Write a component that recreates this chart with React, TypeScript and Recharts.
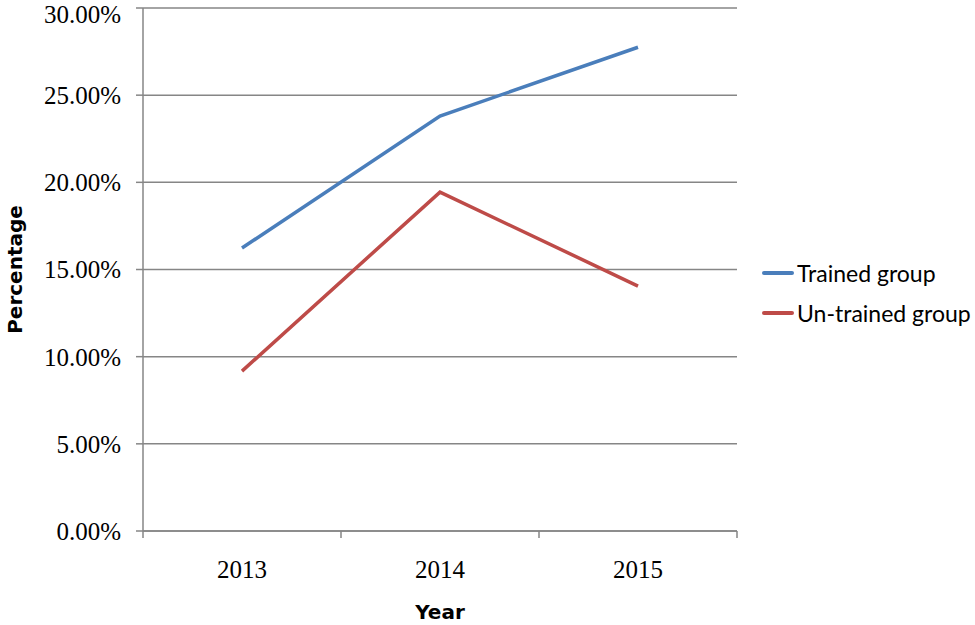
import { LineChart, Line, XAxis, YAxis, CartesianGrid, Label } from 'recharts'

const years = ['2013', '2014', '2015']
const trained = [0.1623, 0.238, 0.2775]
const untrained = [0.0917, 0.1944, 0.1405]
const yTicks = [0, 0.05, 0.1, 0.15, 0.2, 0.25, 0.3]

const series = [
  { key: 'trained', name: 'Trained group', color: '#4A7EBB' },
  { key: 'untrained', name: 'Un-trained group', color: '#BE4B48' },
]

const data = years.map((year, i) => ({
  year,
  trained: trained[i],
  untrained: untrained[i],
}))

const GRID = '#868686'
const HALF_BAND = 99

function YearTick(props: any) {
  const { x, y, payload, index } = props
  return (
    <g>
      <line x1={x - HALF_BAND} y1={y} x2={x - HALF_BAND} y2={y + 7} stroke={GRID} strokeWidth={1.5} />
      {index === years.length - 1 && (
        <line x1={x + HALF_BAND} y1={y} x2={x + HALF_BAND} y2={y + 7} stroke={GRID} strokeWidth={1.5} />
      )}
      <text x={x} y={y + 47} textAnchor="middle" fontFamily="'Liberation Serif', serif" fontSize={25} fill="#000">
        {payload.value}
      </text>
    </g>
  )
}

// legend drawn as plain html to the right of the plot
function LegendBox() {
  return (
    <div style={{ position: 'absolute', left: 762, top: 253 }}>
      {series.map((s) => (
        <div key={s.key} style={{ display: 'flex', alignItems: 'center', height: 40 }}>
          <div style={{ width: 32, height: 4, background: s.color, borderRadius: 2 }} />
          <span style={{ fontFamily: 'Lato, sans-serif', fontSize: 23, color: '#000', marginLeft: 3, whiteSpace: 'nowrap' }}>
            {s.name}
          </span>
        </div>
      ))}
    </div>
  )
}

export default function App() {
  return (
    <div style={{ position: 'absolute', left: 0, top: 0, width: 975, height: 625, background: '#fff' }}>
      <LineChart width={975} height={625} data={data} margin={{ top: 8, right: 238, bottom: 0, left: 0 }}>
        <CartesianGrid vertical={false} stroke={GRID} strokeWidth={1.5} />
        <XAxis
          dataKey="year"
          padding={{ left: HALF_BAND, right: HALF_BAND }}
          stroke={GRID}
          strokeWidth={1.5}
          tickLine={false}
          tickSize={0}
          tickMargin={0}
          tick={<YearTick />}
          height={94}
          interval={0}
        >
          <Label
            value="Year"
            position="insideBottom"
            offset={6}
            style={{ fontFamily: "'DejaVu Sans', sans-serif", fontWeight: 'bold', fontSize: 20, fill: '#000' }}
          />
        </XAxis>
        <YAxis
          width={143}
          domain={[0, 0.3]}
          ticks={yTicks}
          tickFormatter={(v: number) => (v * 100).toFixed(2) + '%'}
          stroke={GRID}
          strokeWidth={1.5}
          tickSize={7}
          tickMargin={15}
          tick={{ fontFamily: "'Liberation Serif', serif", fontSize: 25, fill: '#000' }}
        >
          <Label
            value="Percentage"
            angle={-90}
            position="insideLeft"
            offset={15}
            style={{ fontFamily: "'DejaVu Sans', sans-serif", fontWeight: 'bold', fontSize: 20, fill: '#000', textAnchor: 'middle' }}
          />
        </YAxis>
        {series.map((s) => (
          <Line
            key={s.key}
            dataKey={s.key}
            name={s.name}
            stroke={s.color}
            strokeWidth={3.5}
            dot={false}
            activeDot={false}
            isAnimationActive={false}
          />
        ))}
      </LineChart>
      <LegendBox />
    </div>
  )
}
